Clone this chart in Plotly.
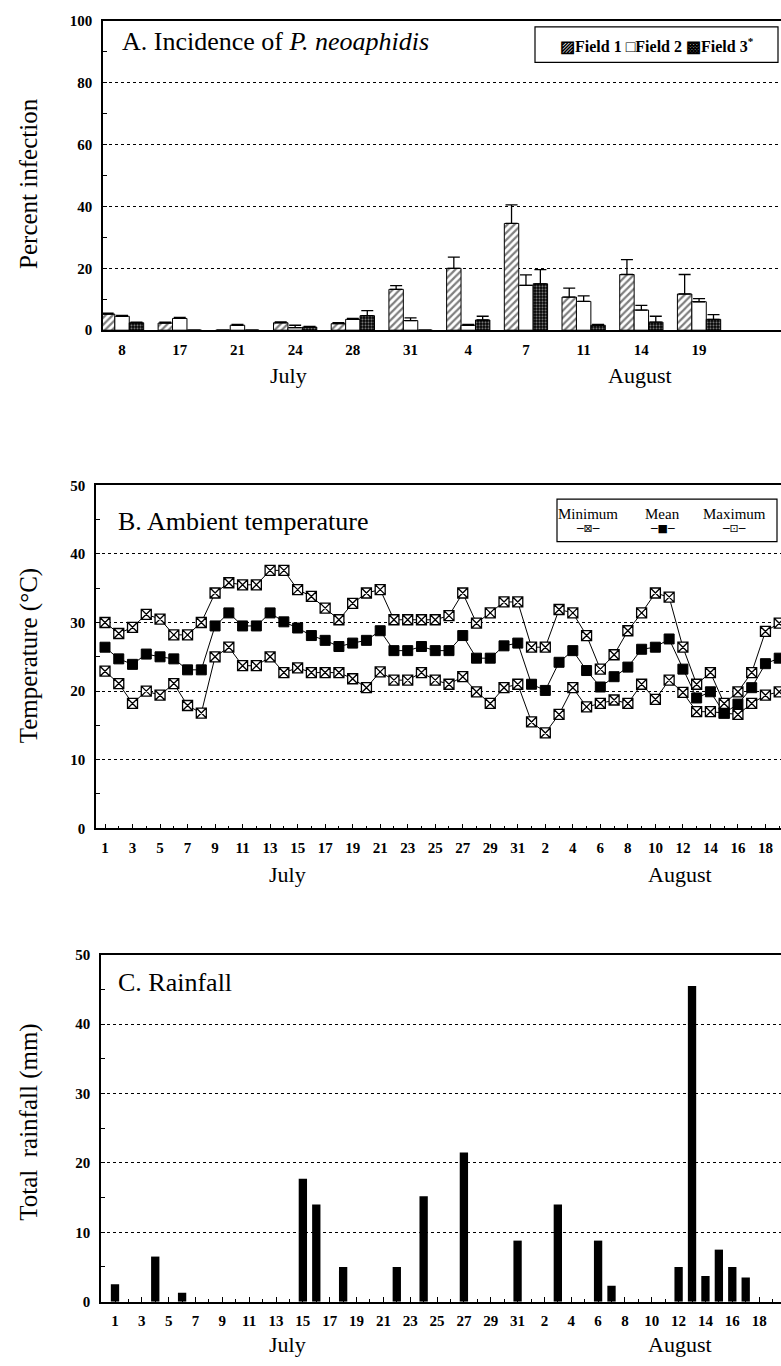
import plotly.graph_objects as go

W, H = 781, 1366

# ---------------- data ----------------
a_labels = ["8", "17", "21", "24", "28", "31", "4", "7", "11", "14", "19"]
field1 = [5.2, 2.3, 0, 2.4, 2.1, 13.2, 20.0, 34.5, 10.7, 18.0, 11.7]
field1_err = [0.3, 0.3, 0, 0.3, 0.3, 1.2, 3.6, 6.0, 2.9, 4.8, 6.3]
field2 = [4.5, 3.8, 1.6, 0.8, 3.5, 3.1, 1.6, 14.5, 9.3, 6.5, 9.2]
field2_err = [0.3, 0.3, 0.3, 0.8, 0.3, 0.9, 0.3, 3.4, 1.8, 1.5, 1.0]
field3 = [2.4, 0, 0, 1.0, 4.7, 0, 3.3, 15.0, 1.6, 2.6, 3.5]
field3_err = [0.2, 0, 0, 0.2, 1.6, 0, 1.2, 4.6, 0.3, 1.9, 1.5]

# day index: 1..31 = July 1..31, 32..50 = August 1..19
temp_days = list(range(1, 51))
t_max = [30.0, 28.4, 29.3, 31.2, 30.5, 28.2, 28.2, 30.0, 34.3, 35.8, 35.5, 35.5, 37.6, 37.6,
         34.8, 33.8, 32.1, 30.4, 32.8, 34.3, 34.8, 30.4, 30.4, 30.4, 30.4, 31.0, 34.3, 29.9,
         31.4, 33.0, 33.0,
         26.4, 26.4, 31.9, 31.4, 28.1, 23.2, 25.3, 28.8, 31.4, 34.3, 33.7, 26.4, 21.0, 22.7,
         18.2, 19.9, 22.7, 28.7, 29.9]
t_mean = [26.4, 24.7, 23.9, 25.4, 25.0, 24.7, 23.1, 23.1, 29.5, 31.4, 29.5, 29.5, 31.4, 30.1,
          29.2, 28.1, 27.4, 26.5, 27.0, 27.4, 28.8, 25.9, 25.9, 26.5, 25.9, 25.9, 28.1, 24.8,
          24.8, 26.6, 27.0,
          21.0, 20.1, 24.2, 25.9, 23.0, 20.6, 22.1, 23.5, 26.1, 26.4, 27.6, 23.2, 19.0, 19.9,
          16.8, 18.1, 20.5, 24.0, 24.8]
t_min = [22.9, 21.1, 18.2, 20.0, 19.4, 21.1, 17.9, 16.8, 25.0, 26.4, 23.7, 23.7, 25.0, 22.7,
         23.4, 22.7, 22.7, 22.7, 21.8, 20.5, 22.8, 21.6, 21.6, 22.7, 21.6, 21.0, 22.1, 19.9,
         18.2, 20.5, 21.0,
         15.5, 13.9, 16.6, 20.5, 17.7, 18.2, 18.7, 18.2, 21.0, 18.8, 21.6, 19.8, 17.0, 17.0,
         16.8, 16.6, 18.2, 19.4, 19.9]

rain_days = [1, 4, 6, 15, 16, 18, 22, 24, 27, 31, 34, 37, 38, 43, 44, 45, 46, 47, 48]
rain_mm = [2.5, 6.5, 1.3, 17.7, 14.0, 5.0, 5.0, 15.2, 21.5, 8.8, 14.0, 8.8, 2.3, 5.0, 45.5,
           3.7, 7.5, 5.0, 3.5]

day_tickvals = list(range(1, 32, 2)) + list(range(33, 50, 2))
day_ticktext = [str(d) for d in range(1, 32, 2)] + [str(d) for d in range(2, 19, 2)]

# ---------------- helpers ----------------
SERIF = "Liberation Serif"


def yp(p):
    return 1 - p / H


def xp(p):
    return p / W


fig = go.Figure()

# ---------------- panel A ----------------
a_x = list(range(len(a_labels)))
bw = 0.25
patterns = [dict(shape="/", fgcolor="black", bgcolor="white", size=5, solidity=0.45),
            dict(shape="", fgcolor="black", bgcolor="white"),
            dict(shape=".", fgcolor="white", bgcolor="black", size=3, solidity=0.4)]
for i, (vals, errs, name) in enumerate([(field1, field1_err, "Field 1"),
                                        (field2, field2_err, "Field 2"),
                                        (field3, field3_err, "Field 3")]):
    fig.add_trace(go.Bar(
        x=a_x, y=vals, name=name, width=bw, offset=-1.5 * bw + i * bw,
        marker=dict(color="white", line=dict(color="black", width=1), pattern=patterns[i]),
        error_y=dict(type="data", array=errs, arrayminus=[0] * len(errs), symmetric=False,
                     color="black", thickness=1.3, width=6),
        xaxis="x", yaxis="y", showlegend=False))

# ---------------- panel B ----------------
fig.add_trace(go.Scatter(x=temp_days, y=t_min, mode="lines+markers", name="Minimum",
                         line=dict(color="black", width=1),
                         marker=dict(symbol="square-x", size=10, color="white",
                                     line=dict(color="black", width=1.3)),
                         xaxis="x2", yaxis="y2", showlegend=False))
fig.add_trace(go.Scatter(x=temp_days, y=t_mean, mode="lines+markers", name="Mean",
                         line=dict(color="black", width=1),
                         marker=dict(symbol="square", size=10, color="black",
                                     line=dict(color="black", width=1)),
                         xaxis="x2", yaxis="y2", showlegend=False))
fig.add_trace(go.Scatter(x=temp_days, y=t_max, mode="lines+markers", name="Maximum",
                         line=dict(color="black", width=1),
                         marker=dict(symbol="square-x", size=10, color="white",
                                     line=dict(color="black", width=1.3)),
                         xaxis="x2", yaxis="y2", showlegend=False))

# ---------------- panel C ----------------
fig.add_trace(go.Bar(x=rain_days, y=rain_mm, width=0.62, marker=dict(color="black", line=dict(width=0)),
                     xaxis="x3", yaxis="y3", showlegend=False))

# ---------------- axes ----------------
tickfont = dict(family=SERIF, size=15, color="black", weight="bold")


def yaxis(dom, rng, dtick, mdtick, anchor):
    return dict(domain=dom, range=rng, dtick=dtick, anchor=anchor,
                showline=True, linecolor="black", linewidth=1.5, ticks="inside", ticklen=4,
                tickcolor="black", tickfont=tickfont, showgrid=True, gridcolor="black",
                griddash="dot", gridwidth=1, zeroline=False, ticklabelstandoff=6,
                minor=dict(ticks="inside", ticklen=4, tickcolor="black", dtick=mdtick,
                           showgrid=False))


common_x = dict(showline=True, linecolor="black", linewidth=1.5, mirror=True, tickfont=tickfont,
                showgrid=False, zeroline=False, ticklabelstandoff=5)

fig.update_layout(
    xaxis=dict(domain=[xp(103), 1], range=[-0.33, 11.42], tickvals=a_x, ticktext=a_labels,
               ticks="", anchor="y", **common_x),
    yaxis=yaxis([yp(326), yp(13)], [0, 100], 20, 10, "x"),
    xaxis2=dict(domain=[xp(96), 1], range=[0.346, 50.13], tickvals=day_tickvals,
                ticktext=day_ticktext, ticks="inside", ticklen=5, tickcolor="black",
                minor=dict(ticks="inside", ticklen=3, tickcolor="black", dtick=1, tick0=0),
                anchor="y2", **common_x),
    yaxis2=yaxis([yp(830), yp(483)], [0, 50], 10, 5, "x2"),
    xaxis3=dict(domain=[xp(101), 1], range=[-0.043, 50.63], tickvals=day_tickvals,
                ticktext=day_ticktext, ticks="inside", ticklen=5, tickcolor="black",
                minor=dict(ticks="inside", ticklen=3, tickcolor="black", dtick=1, tick0=0),
                anchor="y3", **common_x),
    yaxis3=yaxis([yp(1309), yp(958)], [0, 50], 10, 5, "x3"),
    width=W, height=H, margin=dict(l=0, r=0, t=0, b=0),
    paper_bgcolor="white", plot_bgcolor="white",
    font=dict(family=SERIF, color="black"),
)

ann = []


def text(x, y, s, size, xanchor="center", angle=0, weight="normal", family=SERIF):
    ann.append(dict(x=xp(x), y=yp(y), xref="paper", yref="paper", text=s, showarrow=False,
                    xanchor=xanchor, yanchor="middle", textangle=angle,
                    font=dict(family=family, size=size, color="black", weight=weight)))


# panel titles
text(120, 34, "A. Incidence of <i>P. neoaphidis</i>", 26, xanchor="left")
text(116, 520, "B. Ambient temperature", 26, xanchor="left")
text(116, 986, "C. Rainfall", 26, xanchor="left")

# y axis titles
text(29, 178, "Percent infection", 25, angle=-90)
text(29, 655, "Temperature (°C)", 25, angle=-90)
text(29, 1127, "Total  rainfall (mm)", 25, angle=-90)

# month labels
text(288, 372, "July", 22)
text(640, 372, "August", 22)
text(287, 877, "July", 22)
text(680, 877, "August", 22)
text(287, 1352, "July", 22)
text(680, 1352, "August", 22)

# legend A
text(657, 37, "▨Field 1 □Field 2 ▩Field 3<sup>*</sup>", 16, weight="bold")

# legend B
text(588, 512, "Minimum", 15)
text(662, 512, "Mean", 15)
text(734, 512, "Maximum", 15)
text(588, 527, "─⊠─", 11, family="DejaVu Sans")
text(662, 527, "─■─", 11, family="DejaVu Sans")
text(734, 527, "─⊡─", 11, family="DejaVu Sans")

fig.update_layout(annotations=ann)

fig.update_layout(shapes=[
    dict(type="rect", xref="paper", yref="paper", x0=xp(535), x1=xp(778), y0=yp(55), y1=yp(19),
         line=dict(color="black", width=1.2)),
    dict(type="rect", xref="paper", yref="paper", x0=xp(557), x1=xp(777), y0=yp(540), y1=yp(497),
         line=dict(color="black", width=1.2)),
])

fig.write_html("out.html")
